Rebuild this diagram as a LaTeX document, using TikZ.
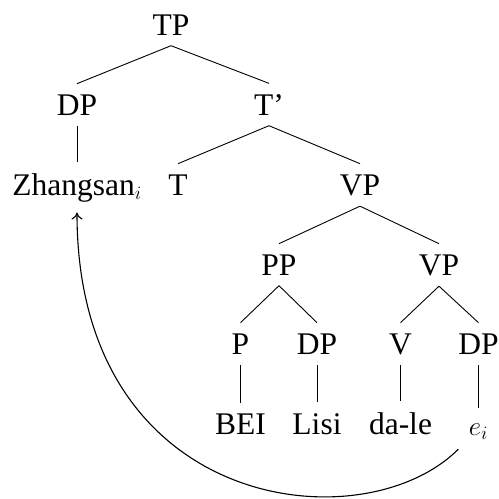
\RequirePackage{fix-cm}
\documentclass[tikz,border=0pt]{standalone}
\usepackage{fontspec}
\setmainfont{Liberation Serif}
\usetikzlibrary{arrows.meta}
\begin{document}
\begin{tikzpicture}[
  x=1pt, y=1pt,
  font=\fontsize{31.5}{38}\selectfont,
  every node/.style={inner sep=10.5pt, anchor=base},
  branch/.style={line width=0.9pt},
  movement/.style={line width=1.1pt, -{To[length=7pt,width=11pt]}},
]
\useasboundingbox (0,0) rectangle (499,-499);

% syntactic categories and words, placed by baseline
\node (tp)   at (171,-35)  {TP};
\node (dpa)  at (77,-115)  {DP};
\node (tbar) at (269,-115) {T'};
\node (zh)   at (77,-195)  {Zhangsan{\fontsize{27}{32}\selectfont$_i$}};
\node (t)    at (178,-195) {T};
\node (vpa)  at (360,-195) {VP};
\node (pp)   at (279,-275) {PP};
\node (vpb)  at (439,-275) {VP};
\node (p)    at (240.5,-354) {P};
\node (dpb)  at (317,-354) {DP};
\node (v)    at (400.5,-354) {V};
\node (dpc)  at (478.5,-354) {DP};
\node (bei)  at (240.5,-434) {BEI};
\node (lisi) at (317,-434) {Lisi};
\node (dale) at (400.5,-434) {da-le};
\node[text height=16pt] (ei) at (478.5,-435) {\fontsize{27}{32}\selectfont$e_i$};

% tree branches
\draw[branch] (tp.south) -- (dpa.north);
\draw[branch] (tp.south) -- (tbar.north);
\draw[branch] (dpa.south) -- (zh.north);
\draw[branch] (tbar.south) -- (t.north);
\draw[branch] (tbar.south) -- (vpa.north);
\draw[branch] (vpa.south) -- (pp.north);
\draw[branch] (vpa.south) -- (vpb.north);
\draw[branch] (pp.south) -- (p.north);
\draw[branch] (pp.south) -- (dpb.north);
\draw[branch] (vpb.south) -- (v.north);
\draw[branch] (vpb.south) -- (dpc.north);
\draw[branch] (p.south) -- (bei.north);
\draw[branch] (dpb.south) -- (lisi.north);
\draw[branch] (v.south) -- (dale.north);
\draw[branch] (dpc.south) -- (ei.north);

% movement of the trace back to its antecedent
\draw[movement] (ei) .. controls +(-135:163) and +(-90:325) .. (zh);
\end{tikzpicture}
\end{document}
